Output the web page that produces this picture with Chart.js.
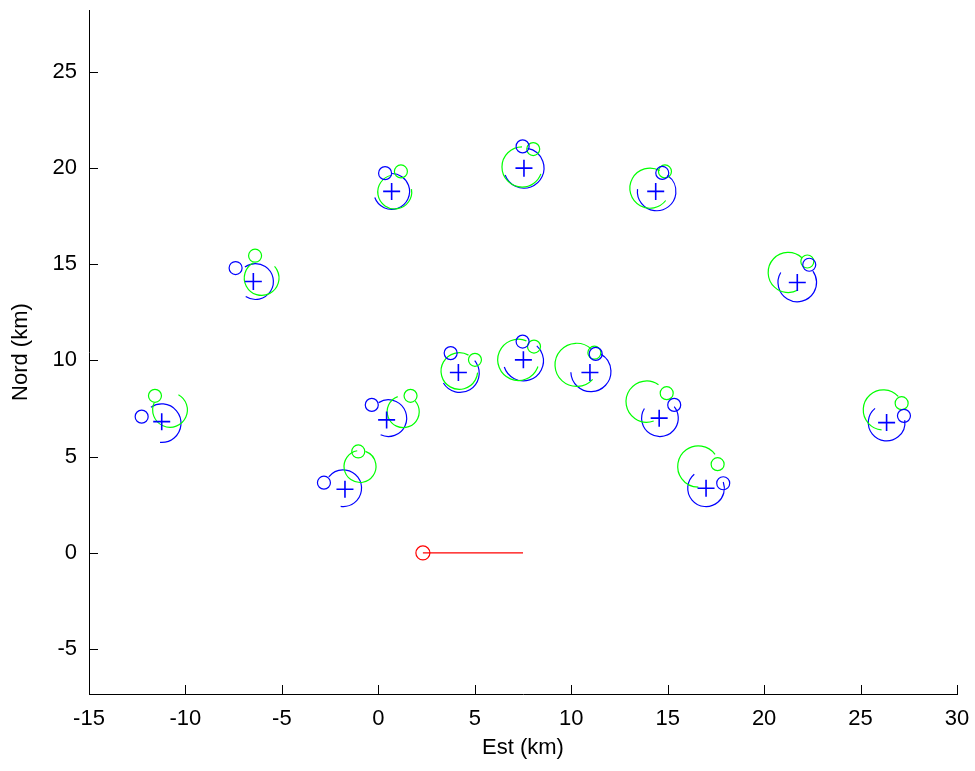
<!DOCTYPE html>
<html>
<head>
<meta charset="utf-8">
<script src="https://cdn.jsdelivr.net/npm/chart.js@4"></script>
<style>
  html, body { margin: 0; padding: 0; background: #fff; }
  #wrap { width: 975px; height: 771px; }
</style>
</head>
<body>
<div id="wrap"><canvas id="plot"></canvas></div>
<script>
// axis ticks
const xTicks = [-15, -10, -5, 0, 5, 10, 15, 20, 25, 30];
const yTicks = [-5, 0, 5, 10, 15, 20, 25];

// stations (+)
const stationX = [-11.23, -6.48, 0.69, 7.55, 14.38, 21.72, 26.35, -1.73, 0.43, 4.15, 7.52, 10.97, 14.56, 16.99];
const stationY = [6.82, 14.10, 18.78, 19.99, 18.78, 14.05, 6.77, 3.31, 6.91, 9.37, 10.03, 9.37, 7.00, 3.36];

// small blue / green circles
const blueMarkX = [-12.27, -7.40, 0.35, 7.48, 14.72, 22.34, 27.25, -2.82, -0.34, 3.75, 7.48, 11.27, 15.34, 17.88];
const blueMarkY = [7.08, 14.80, 19.73, 21.12, 19.74, 14.97, 7.12, 3.65, 7.69, 10.38, 10.98, 10.34, 7.69, 3.62];
const greenMarkX = [-11.58, -6.39, 1.17, 8.03, 14.86, 22.24, 27.13, -1.04, 1.67, 5.01, 8.07, 11.20, 14.95, 17.59];
const greenMarkY = [8.16, 15.44, 19.82, 20.98, 19.82, 15.14, 7.78, 5.27, 8.16, 10.03, 10.72, 10.40, 8.30, 4.61];

// arcs: [centre x, centre y, radius km, from deg, to deg] (counter-clockwise)
const blueArcs = [
  [-11.23, 6.74, 1.00, -95, 124],
  [-6.37, 14.10, 0.93, -123, 126],
  [0.69, 18.78, 0.93, 200, 450],
  [7.55, 19.99, 1.04, 200, 440],
  [14.43, 18.78, 1.00, 173, 416],
  [21.72, 14.05, 1.00, 149, 396],
  [26.35, 6.77, 0.95, 129, 368],
  [-1.82, 3.36, 0.95, -98, 142],
  [0.52, 7.00, 0.95, -115, 122],
  [4.23, 9.34, 1.00, 211, 400],
  [7.52, 9.98, 1.04, 198, 408],
  [11.02, 9.42, 1.04, 182, 422],
  [14.60, 7.00, 0.95, 148, 399],
  [16.99, 3.36, 0.95, 130, 380]
];
const greenArcs = [
  [-10.80, 7.43, 0.90, 156, 421],
  [-6.05, 14.28, 0.90, 118, 402],
  [0.85, 18.75, 0.88, 100, 370],
  [7.45, 20.05, 1.04, 90, 340],
  [14.08, 18.95, 1.04, 61, 322],
  [21.25, 14.57, 1.04, 47, 299],
  [26.18, 7.43, 1.04, 42, 265],
  [-0.95, 4.49, 0.83, 100, 430],
  [1.29, 7.34, 0.83, 110, 401],
  [4.20, 9.45, 0.95, 60, 355],
  [7.26, 10.03, 1.07, 67, 341],
  [10.28, 9.77, 1.12, 48, 318],
  [13.91, 7.86, 1.07, 55, 290],
  [16.59, 4.49, 1.07, 36, 270]
];

// red track
const trackX = [2.31, 7.5];
const trackY = [0, 0];

const BLUE = '#0000ff';
const GREEN = '#00ff00';
const RED = '#ff0000';
const FONT = { family: '"Liberation Sans", Arial, sans-serif', size: 22 };

function pts(xs, ys) {
  return xs.map((x, i) => ({ x: x, y: ys[i] }));
}

const arcPlugin = {
  id: 'arcs',
  beforeDatasetsDraw(chart) {
    const { ctx, chartArea, scales } = chart;
    ctx.save();
    ctx.beginPath();
    ctx.rect(chartArea.left, chartArea.top, chartArea.width, chartArea.height);
    ctx.clip();
    ctx.lineWidth = 1.2;
    [[blueArcs, BLUE], [greenArcs, GREEN]].forEach(([arcs, color]) => {
      ctx.strokeStyle = color;
      arcs.forEach(a => {
        const cx = scales.x.getPixelForValue(a[0]);
        const cy = scales.y.getPixelForValue(a[1]);
        const r = Math.abs(scales.x.getPixelForValue(a[0] + a[2]) - cx);
        ctx.beginPath();
        ctx.arc(cx, cy, r, -a[3] * Math.PI / 180, -a[4] * Math.PI / 180, true);
        ctx.stroke();
      });
    });
    ctx.restore();
  }
};

// MATLAB style inward ticks
const innerTicks = {
  id: 'innerTicks',
  afterDraw(chart) {
    const { ctx, chartArea, scales } = chart;
    ctx.save();
    ctx.strokeStyle = '#000';
    ctx.lineWidth = 1;
    ctx.beginPath();
    xTicks.forEach(v => {
      const px = Math.round(scales.x.getPixelForValue(v)) + 0.5;
      ctx.moveTo(px, chartArea.bottom);
      ctx.lineTo(px, chartArea.bottom - 9);
    });
    yTicks.forEach(v => {
      const py = Math.round(scales.y.getPixelForValue(v)) + 0.5;
      ctx.moveTo(chartArea.left, py);
      ctx.lineTo(chartArea.left + 9, py);
    });
    ctx.stroke();
    ctx.restore();
  }
};

new Chart(document.getElementById('plot'), {
  type: 'scatter',
  data: {
    datasets: [
      {
        label: 'track',
        data: pts(trackX, trackY),
        showLine: true,
        borderColor: RED,
        borderWidth: 1.2,
        pointStyle: 'circle',
        pointRadius: [7, 0],
        pointBorderColor: RED,
        pointBackgroundColor: 'rgba(0,0,0,0)',
        pointBorderWidth: 1.2
      },
      {
        label: 'blue o',
        data: pts(blueMarkX, blueMarkY),
        pointStyle: 'circle',
        pointRadius: 6.5,
        pointBorderColor: BLUE,
        pointBackgroundColor: 'rgba(0,0,0,0)',
        pointBorderWidth: 1.2
      },
      {
        label: 'green o',
        data: pts(greenMarkX, greenMarkY),
        pointStyle: 'circle',
        pointRadius: 6.5,
        pointBorderColor: GREEN,
        pointBackgroundColor: 'rgba(0,0,0,0)',
        pointBorderWidth: 1.2
      },
      {
        label: 'stations',
        data: pts(stationX, stationY),
        pointStyle: 'cross',
        pointRadius: 8.5,
        pointBorderColor: BLUE,
        pointBorderWidth: 1.6
      }
    ]
  },
  options: {
    responsive: true,
    maintainAspectRatio: false,
    animation: false,
    events: [],
    layout: { padding: { top: 10, right: 18, left: 0, bottom: 0 } },
    plugins: {
      legend: { display: false },
      tooltip: { enabled: false }
    },
    scales: {
      x: {
        type: 'linear',
        min: -15,
        max: 30,
        afterBuildTicks: s => { s.ticks = xTicks.map(v => ({ value: v })); },
        afterFit: s => { s.height = 77; s.paddingLeft = 0; s.paddingRight = 0; },
        grid: { display: false, drawTicks: false },
        border: { display: true, color: '#000', width: 1 },
        ticks: { color: '#000', font: FONT, padding: 12, maxRotation: 0, autoSkip: false },
        title: { display: true, text: 'Est (km)', color: '#000', font: FONT, padding: { top: 0, bottom: 10 } }
      },
      y: {
        type: 'linear',
        min: -7.33,
        max: 28.2,
        afterBuildTicks: s => { s.ticks = yTicks.map(v => ({ value: v })); },
        afterFit: s => { s.width = 89; s.paddingTop = 0; s.paddingBottom = 0; },
        grid: { display: false, drawTicks: false },
        border: { display: true, color: '#000', width: 1 },
        ticks: { color: '#000', font: FONT, padding: 12, autoSkip: false },
        title: { display: true, text: 'Nord (km)', color: '#000', font: FONT, padding: { top: 8, bottom: 0 } }
      }
    }
  },
  plugins: [arcPlugin, innerTicks]
});
</script>
</body>
</html>
